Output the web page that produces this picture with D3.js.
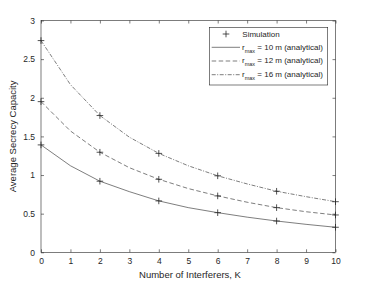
<!DOCTYPE html>
<html><head><meta charset="utf-8">
<script src="https://cdn.jsdelivr.net/npm/d3@7"></script>
<style>body{margin:0;background:#fff}svg{display:block}text{font-family:"Liberation Sans",Arial,sans-serif;fill:#262626}</style>
</head><body><svg id="c" width="379" height="285"></svg>
<script>
const K = [0,1,2,3,4,5,6,7,8,9,10];
const cap10 = [1.39,1.12,0.92,0.785,0.665,0.578,0.513,0.455,0.405,0.362,0.324];
const cap12 = [1.95,1.57,1.295,1.095,0.945,0.825,0.73,0.648,0.578,0.525,0.483];
const cap16 = [2.74,2.17,1.77,1.49,1.28,1.12,0.99,0.885,0.79,0.72,0.655];
const simK = [0,2,4,6,8,10];
const xTicks = [0,1,2,3,4,5,6,7,8,9,10];
const yTicks = [0,0.5,1,1.5,2,2.5,3];
const legendLabels = ["Simulation","10 m (analytical)","12 m (analytical)","16 m (analytical)"];
const series = [
  {v:cap10, dash:null},
  {v:cap12, dash:"4.5,2.5"},
  {v:cap16, dash:"4,1.5,1,1.5"}
];
const svg = d3.select("#c");
const L=41, R=335.5, T=20.5, B=252.3;
const x = d3.scaleLinear().domain([0,10]).range([L,R]);
const y = d3.scaleLinear().domain([0,3]).range([B,T]);
const col="#262626";
svg.append("rect").attr("x",L).attr("y",T).attr("width",R-L).attr("height",B-T).attr("fill","none").attr("stroke",col).attr("stroke-width",0.6);
const tl=3;
const gx=svg.append("g").attr("transform",`translate(0,${B})`).call(d3.axisBottom(x).tickValues(xTicks).tickSize(-tl).tickPadding(6).tickFormat(d3.format("d")));
const gxt=svg.append("g").attr("transform",`translate(0,${T})`).call(d3.axisTop(x).tickValues(xTicks).tickSize(-tl).tickFormat(""));
const gy=svg.append("g").attr("transform",`translate(${L},0)`).call(d3.axisLeft(y).tickValues(yTicks).tickSize(-tl).tickPadding(6).tickFormat(d=>String(d)));
const gyr=svg.append("g").attr("transform",`translate(${R},0)`).call(d3.axisRight(y).tickValues(yTicks).tickSize(-tl).tickFormat(""));
[gx,gxt,gy,gyr].forEach(g=>{g.select(".domain").remove();g.selectAll("line").attr("stroke",col).attr("stroke-width",0.6);g.selectAll("text").attr("font-size",8.5).attr("fill",col).style("font-family","Liberation Sans, Arial, sans-serif");});
svg.append("text").attr("x",190).attr("y",277.5).attr("text-anchor","middle").attr("font-size",9.5).text("Number of Interferers, K");
svg.append("text").attr("transform",`translate(16,${(T+B)/2}) rotate(-90)`).attr("text-anchor","middle").attr("font-size",9.5).text("Average Secrecy Capacity");
const line=d3.line().x((d,i)=>x(K[i])).y(d=>y(d));
series.forEach(s=>{
  svg.append("path").attr("d",line(s.v)).attr("fill","none").attr("stroke",col).attr("stroke-width",0.6).attr("stroke-dasharray",s.dash);
  simK.forEach(k=>{
    const cx=x(k), cy=y(s.v[K.indexOf(k)]);
    svg.append("path").attr("d",`M${cx-3.3},${cy}H${cx+3.3}M${cx},${cy-3.3}V${cy+3.3}`).attr("stroke",col).attr("stroke-width",0.8);
  });
});
const lx=209.3, ly=27.3, lw=118.4, lh=57.7;
svg.append("rect").attr("x",lx).attr("y",ly).attr("width",lw).attr("height",lh).attr("fill","#fff").attr("stroke",col).attr("stroke-width",0.6);
const rows=[34,47.3,61,74.7];
svg.append("path").attr("d",`M${226-3.3},${rows[0]}H${226+3.3}M226,${rows[0]-3.3}V${rows[0]+3.3}`).attr("stroke",col).attr("stroke-width",0.8);
svg.append("text").attr("x",242.3).attr("y",rows[0]+3).attr("font-size",8).text(legendLabels[0]);
series.forEach((s,i)=>{
  const ry=rows[i+1];
  svg.append("line").attr("x1",211.7).attr("x2",240).attr("y1",ry).attr("y2",ry).attr("stroke",col).attr("stroke-width",0.6).attr("stroke-dasharray",s.dash);
  const t=svg.append("text").attr("x",242).attr("y",ry+2.3).attr("font-size",8);
  t.append("tspan").text("r");
  t.append("tspan").attr("dy",3).attr("font-size",5.5).text("max");
  t.append("tspan").attr("dy",-3).text(" = "+legendLabels[i+1]);
});
</script></body></html>
